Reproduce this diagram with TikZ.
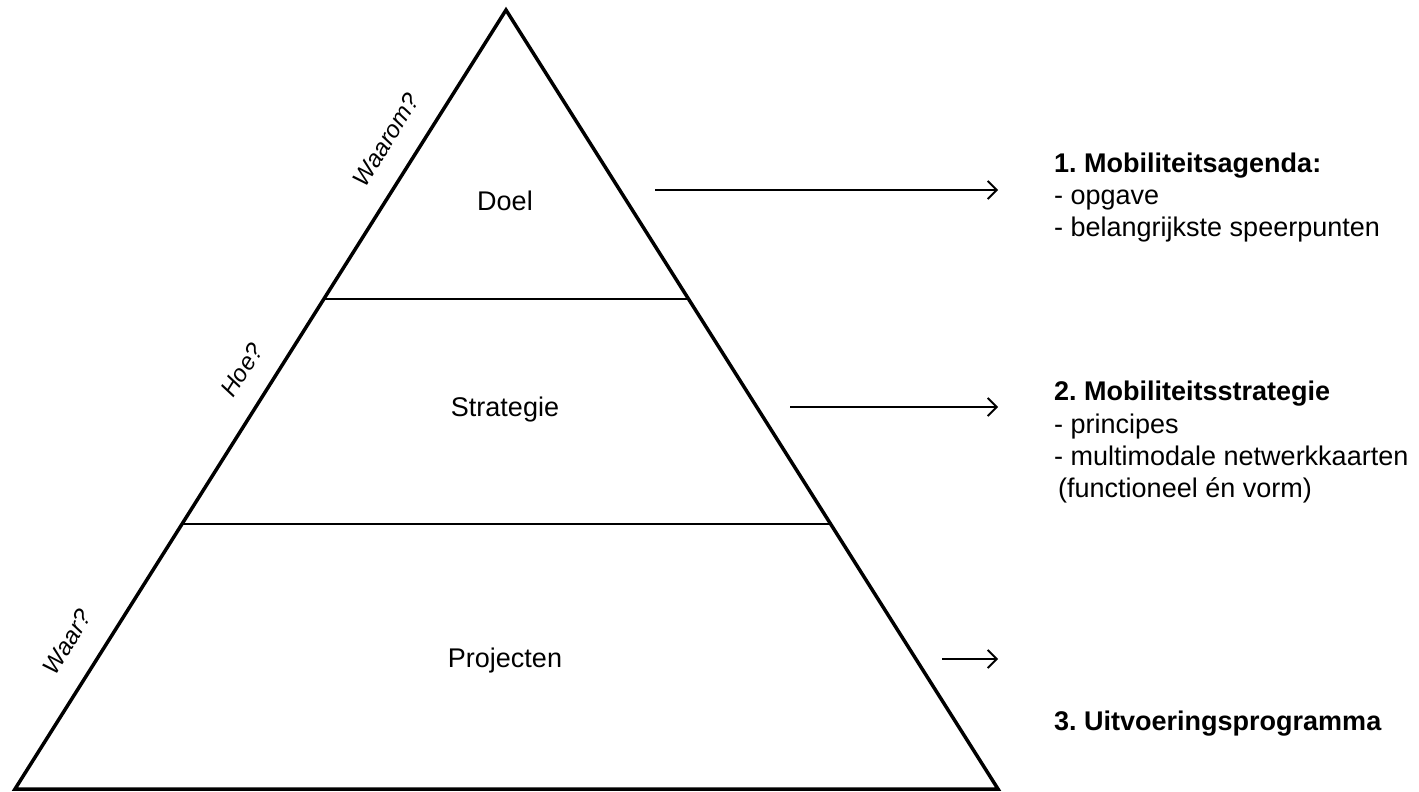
\documentclass[tikz,border=0pt]{standalone}
\usepackage{fontspec}
\setmainfont{Liberation Sans}
\usetikzlibrary{arrows.meta,calc}
\frenchspacing
\begin{document}
\begin{tikzpicture}[x=1pt,y=-1pt,
  tri/.style={line width=3.5pt,line join=miter},
  divider/.style={line width=2pt},
  conn/.style={line width=1.8pt,-{Straight Barb[length=9pt,width=18pt,line width=1.8pt]}},
  level/.style={font=\fontsize{27}{32}\selectfont,inner sep=0pt},
  ask/.style={font=\fontsize{24}{28}\selectfont\itshape,inner sep=0pt,rotate=58},
  head/.style={font=\fontsize{27}{32}\selectfont\bfseries,inner sep=0pt,anchor=base west},
  item/.style={font=\fontsize{27}{32}\selectfont,inner sep=0pt,anchor=base west}]
\useasboundingbox (0,0) rectangle (1419,792);
\fill[white] (0,0) rectangle (1419,792);
% triangle
\coordinate (A) at (506,10);
\coordinate (L) at (15,789);
\coordinate (R) at (998,789);
\draw[tri] (A) -- (L) -- (R) -- cycle;
\coordinate (d1l) at ($(A)!0.3705!(L)$);
\coordinate (d1r) at ($(A)!0.3705!(R)$);
\coordinate (d2l) at ($(A)!0.660!(L)$);
\coordinate (d2r) at ($(A)!0.660!(R)$);
\draw[divider] (d1l) -- (d1r);
\draw[divider] (d2l) -- (d2r);
% level labels
\node[level] (doel) at (505,201) {Doel};
\node[level] (strat) at (505,410) {Strategie};
\node[level] (proj) at (505,661) {Projecten};
% questions
\node[ask] (q1) at (386,140) {Waarom?};
\node[ask] (q2) at (242,370) {Hoe?};
\node[ask] (q3) at (67,642) {Waar?};
% arrows
\coordinate (a1s) at (655,190); \coordinate (a1e) at (998,190);
\coordinate (a2s) at (790,407); \coordinate (a2e) at (998,407);
\coordinate (a3s) at (942,659); \coordinate (a3e) at (998,659);
\draw[conn] (a1s) -- (a1e);
\draw[conn] (a2s) -- (a2e);
\draw[conn] (a3s) -- (a3e);
% right texts
\node[head] (h1) at (1054,172) {1. Mobiliteitsagenda:};
\node[item] (i11) at (1054,204) {- opgave};
\node[item] (i12) at (1054,236) {- belangrijkste speerpunten};
\node[head] (h2) at (1054,400) {2. Mobiliteitsstrategie};
\node[item] (i21) at (1054,433) {- principes};
\node[item] (i22) at (1054,465) {- multimodale netwerkkaarten};
\node[item] (i23) at (1058,497) {(functioneel én vorm)};
\node[head] (h3) at (1054,730) {3. Uitvoeringsprogramma};
\end{tikzpicture}
\end{document}
